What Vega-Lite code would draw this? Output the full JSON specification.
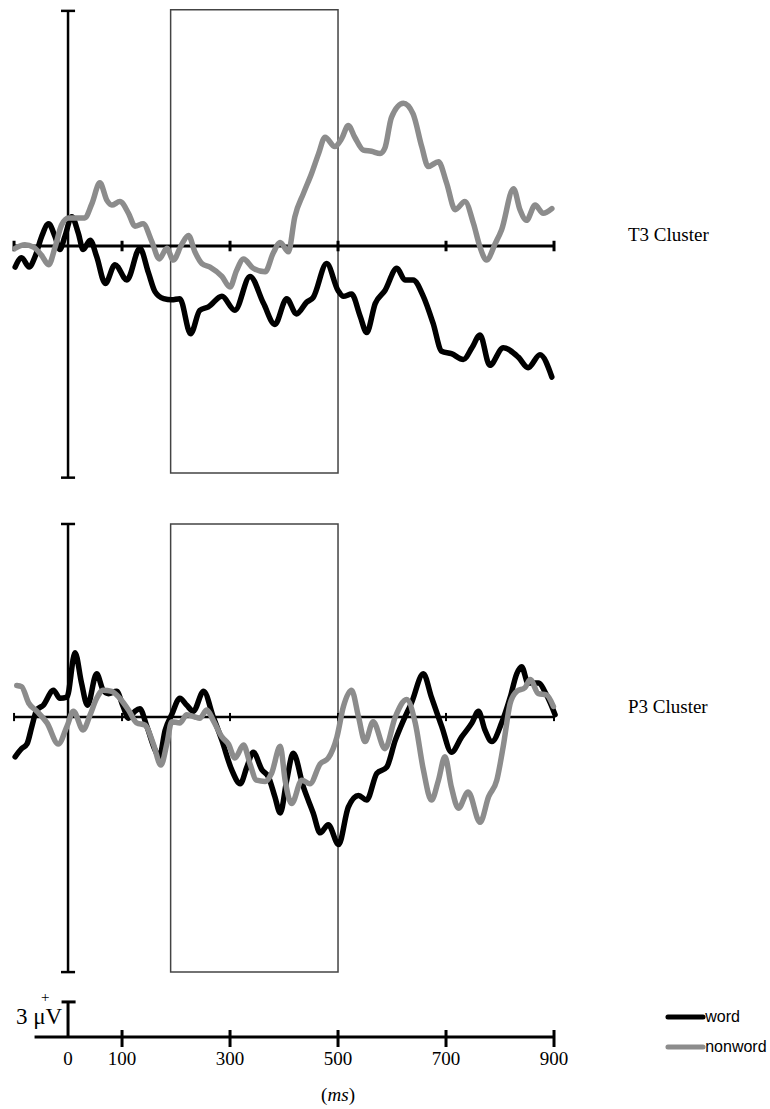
{
  "$schema": "https://vega.github.io/schema/vega-lite/v6.json",
  "padding": 0,
  "autosize": {"type": "pad"},
  "bounds": "flush",
  "spacing": 0,
  "config": {"view": {"stroke": null}, "axis": {"disable": true}, "legend": {"disable": true}},
  "datasets": {
    "t3": [
      {"condition":"word","t":-98,"v":-1.8},{"condition":"word","t":-86,"v":-1.0},{"condition":"word","t":-72,"v":-1.8},{"condition":"word","t":-61,"v":-0.9},{"condition":"word","t":-49,"v":0.8},{"condition":"word","t":-36,"v":1.9},{"condition":"word","t":-24,"v":0.8},{"condition":"word","t":-15,"v":-0.3},{"condition":"word","t":-6,"v":0.8},{"condition":"word","t":7,"v":2.5},{"condition":"word","t":19,"v":1.1},{"condition":"word","t":28,"v":-0.3},{"condition":"word","t":41,"v":0.5},{"condition":"word","t":53,"v":-0.9},{"condition":"word","t":69,"v":-3.2},{"condition":"word","t":87,"v":-1.6},{"condition":"word","t":109,"v":-2.9},{"condition":"word","t":133,"v":-0.2},{"condition":"word","t":149,"v":-2.3},{"condition":"word","t":161,"v":-3.9},{"condition":"word","t":177,"v":-4.5},{"condition":"word","t":192,"v":-4.6},{"condition":"word","t":207,"v":-4.5},{"condition":"word","t":227,"v":-7.5},{"condition":"word","t":244,"v":-5.5},{"condition":"word","t":260,"v":-5.2},{"condition":"word","t":285,"v":-4.3},{"condition":"word","t":309,"v":-5.5},{"condition":"word","t":337,"v":-2.6},{"condition":"word","t":362,"v":-4.9},{"condition":"word","t":383,"v":-6.7},{"condition":"word","t":405,"v":-4.5},{"condition":"word","t":423,"v":-5.8},{"condition":"word","t":442,"v":-4.8},{"condition":"word","t":454,"v":-4.4},{"condition":"word","t":479,"v":-1.5},{"condition":"word","t":500,"v":-3.8},{"condition":"word","t":510,"v":-4.3},{"condition":"word","t":525,"v":-4.1},{"condition":"word","t":541,"v":-6.0},{"condition":"word","t":553,"v":-7.4},{"condition":"word","t":569,"v":-4.9},{"condition":"word","t":587,"v":-3.8},{"condition":"word","t":609,"v":-1.9},{"condition":"word","t":624,"v":-2.9},{"condition":"word","t":639,"v":-2.9},{"condition":"word","t":658,"v":-4.3},{"condition":"word","t":676,"v":-6.6},{"condition":"word","t":692,"v":-9.0},{"condition":"word","t":710,"v":-9.2},{"condition":"word","t":732,"v":-9.7},{"condition":"word","t":748,"v":-8.7},{"condition":"word","t":763,"v":-7.6},{"condition":"word","t":781,"v":-10.2},{"condition":"word","t":806,"v":-8.7},{"condition":"word","t":834,"v":-9.5},{"condition":"word","t":852,"v":-10.4},{"condition":"word","t":874,"v":-9.3},{"condition":"word","t":896,"v":-11.2},
      {"condition":"nonword","t":-98,"v":-0.2},{"condition":"nonword","t":-80,"v":0.1},{"condition":"nonword","t":-64,"v":-0.1},{"condition":"nonword","t":-49,"v":-0.8},{"condition":"nonword","t":-36,"v":-1.6},{"condition":"nonword","t":-24,"v":-0.1},{"condition":"nonword","t":-12,"v":1.8},{"condition":"nonword","t":1,"v":2.4},{"condition":"nonword","t":16,"v":2.4},{"condition":"nonword","t":31,"v":2.4},{"condition":"nonword","t":44,"v":3.6},{"condition":"nonword","t":59,"v":5.4},{"condition":"nonword","t":72,"v":3.9},{"condition":"nonword","t":81,"v":3.5},{"condition":"nonword","t":96,"v":3.8},{"condition":"nonword","t":112,"v":2.8},{"condition":"nonword","t":124,"v":1.7},{"condition":"nonword","t":139,"v":1.9},{"condition":"nonword","t":155,"v":0.4},{"condition":"nonword","t":169,"v":-1.1},{"condition":"nonword","t":183,"v":-0.2},{"condition":"nonword","t":195,"v":-1.2},{"condition":"nonword","t":210,"v":0.1},{"condition":"nonword","t":223,"v":0.9},{"condition":"nonword","t":235,"v":-0.5},{"condition":"nonword","t":248,"v":-1.5},{"condition":"nonword","t":263,"v":-1.8},{"condition":"nonword","t":285,"v":-2.6},{"condition":"nonword","t":300,"v":-3.5},{"condition":"nonword","t":312,"v":-2.1},{"condition":"nonword","t":325,"v":-1.1},{"condition":"nonword","t":343,"v":-1.9},{"condition":"nonword","t":365,"v":-2.2},{"condition":"nonword","t":380,"v":-0.6},{"condition":"nonword","t":393,"v":0.3},{"condition":"nonword","t":408,"v":-0.5},{"condition":"nonword","t":420,"v":2.5},{"condition":"nonword","t":436,"v":4.5},{"condition":"nonword","t":451,"v":6.2},{"condition":"nonword","t":464,"v":7.9},{"condition":"nonword","t":476,"v":9.3},{"condition":"nonword","t":494,"v":8.5},{"condition":"nonword","t":507,"v":9.2},{"condition":"nonword","t":519,"v":10.3},{"condition":"nonword","t":531,"v":9.3},{"condition":"nonword","t":547,"v":8.2},{"condition":"nonword","t":562,"v":8.1},{"condition":"nonword","t":578,"v":7.9},{"condition":"nonword","t":587,"v":8.4},{"condition":"nonword","t":599,"v":11.0},{"condition":"nonword","t":621,"v":12.2},{"condition":"nonword","t":639,"v":11.3},{"condition":"nonword","t":655,"v":8.5},{"condition":"nonword","t":667,"v":6.8},{"condition":"nonword","t":686,"v":7.2},{"condition":"nonword","t":701,"v":5.4},{"condition":"nonword","t":717,"v":3.1},{"condition":"nonword","t":735,"v":3.8},{"condition":"nonword","t":751,"v":1.9},{"condition":"nonword","t":763,"v":-0.1},{"condition":"nonword","t":775,"v":-1.2},{"condition":"nonword","t":791,"v":0.2},{"condition":"nonword","t":803,"v":1.4},{"condition":"nonword","t":825,"v":4.9},{"condition":"nonword","t":837,"v":3.1},{"condition":"nonword","t":849,"v":2.2},{"condition":"nonword","t":865,"v":3.5},{"condition":"nonword","t":880,"v":2.8},{"condition":"nonword","t":896,"v":3.2}
    ],
    "p3": [
      {"condition":"word","t":-98,"v":-3.4},{"condition":"word","t":-86,"v":-2.7},{"condition":"word","t":-76,"v":-2.3},{"condition":"word","t":-67,"v":-0.8},{"condition":"word","t":-58,"v":0.6},{"condition":"word","t":-46,"v":1.0},{"condition":"word","t":-27,"v":2.3},{"condition":"word","t":-15,"v":1.6},{"condition":"word","t":-2,"v":1.7},{"condition":"word","t":13,"v":5.5},{"condition":"word","t":25,"v":2.9},{"condition":"word","t":36,"v":1.0},{"condition":"word","t":53,"v":3.7},{"condition":"word","t":65,"v":2.3},{"condition":"word","t":75,"v":2.0},{"condition":"word","t":90,"v":2.2},{"condition":"word","t":102,"v":0.9},{"condition":"word","t":112,"v":-0.1},{"condition":"word","t":124,"v":0.5},{"condition":"word","t":133,"v":0.7},{"condition":"word","t":146,"v":-0.8},{"condition":"word","t":161,"v":-2.8},{"condition":"word","t":169,"v":-3.4},{"condition":"word","t":180,"v":-1.1},{"condition":"word","t":192,"v":0.2},{"condition":"word","t":207,"v":1.6},{"condition":"word","t":220,"v":1.0},{"condition":"word","t":232,"v":0.5},{"condition":"word","t":251,"v":2.2},{"condition":"word","t":269,"v":0.0},{"condition":"word","t":285,"v":-2.0},{"condition":"word","t":303,"v":-4.5},{"condition":"word","t":319,"v":-5.7},{"condition":"word","t":331,"v":-4.3},{"condition":"word","t":343,"v":-3.0},{"condition":"word","t":359,"v":-4.5},{"condition":"word","t":371,"v":-5.1},{"condition":"word","t":383,"v":-6.8},{"condition":"word","t":393,"v":-8.2},{"condition":"word","t":405,"v":-5.4},{"condition":"word","t":417,"v":-3.1},{"condition":"word","t":436,"v":-6.0},{"condition":"word","t":454,"v":-8.2},{"condition":"word","t":467,"v":-9.9},{"condition":"word","t":482,"v":-9.2},{"condition":"word","t":501,"v":-10.9},{"condition":"word","t":519,"v":-7.7},{"condition":"word","t":538,"v":-6.7},{"condition":"word","t":553,"v":-7.1},{"condition":"word","t":572,"v":-4.8},{"condition":"word","t":590,"v":-4.3},{"condition":"word","t":606,"v":-2.0},{"condition":"word","t":621,"v":-0.3},{"condition":"word","t":636,"v":1.2},{"condition":"word","t":658,"v":3.7},{"condition":"word","t":673,"v":1.7},{"condition":"word","t":692,"v":-0.8},{"condition":"word","t":710,"v":-3.0},{"condition":"word","t":729,"v":-1.7},{"condition":"word","t":748,"v":-0.5},{"condition":"word","t":760,"v":0.5},{"condition":"word","t":772,"v":-1.1},{"condition":"word","t":785,"v":-2.1},{"condition":"word","t":803,"v":-0.5},{"condition":"word","t":819,"v":1.7},{"condition":"word","t":831,"v":3.7},{"condition":"word","t":840,"v":4.3},{"condition":"word","t":852,"v":2.9},{"condition":"word","t":871,"v":2.9},{"condition":"word","t":886,"v":1.9},{"condition":"word","t":902,"v":0.2},
      {"condition":"nonword","t":-95,"v":2.7},{"condition":"nonword","t":-86,"v":2.6},{"condition":"nonword","t":-73,"v":1.2},{"condition":"nonword","t":-58,"v":0.5},{"condition":"nonword","t":-39,"v":-0.5},{"condition":"nonword","t":-18,"v":-2.3},{"condition":"nonword","t":-2,"v":-0.8},{"condition":"nonword","t":10,"v":0.5},{"condition":"nonword","t":28,"v":-1.1},{"condition":"nonword","t":41,"v":0.2},{"condition":"nonword","t":53,"v":1.6},{"condition":"nonword","t":65,"v":2.3},{"condition":"nonword","t":81,"v":2.2},{"condition":"nonword","t":96,"v":1.6},{"condition":"nonword","t":112,"v":0.6},{"condition":"nonword","t":127,"v":-0.5},{"condition":"nonword","t":143,"v":-0.7},{"condition":"nonword","t":158,"v":-2.3},{"condition":"nonword","t":172,"v":-4.1},{"condition":"nonword","t":183,"v":-2.3},{"condition":"nonword","t":192,"v":-0.4},{"condition":"nonword","t":207,"v":-0.5},{"condition":"nonword","t":220,"v":0.2},{"condition":"nonword","t":235,"v":0.0},{"condition":"nonword","t":244,"v":-0.1},{"condition":"nonword","t":257,"v":0.6},{"condition":"nonword","t":269,"v":-0.3},{"condition":"nonword","t":285,"v":-1.7},{"condition":"nonword","t":297,"v":-2.3},{"condition":"nonword","t":309,"v":-3.5},{"condition":"nonword","t":325,"v":-2.4},{"condition":"nonword","t":337,"v":-4.0},{"condition":"nonword","t":349,"v":-5.4},{"condition":"nonword","t":365,"v":-5.5},{"condition":"nonword","t":377,"v":-4.8},{"condition":"nonword","t":393,"v":-2.5},{"condition":"nonword","t":402,"v":-5.4},{"condition":"nonword","t":414,"v":-7.4},{"condition":"nonword","t":433,"v":-5.4},{"condition":"nonword","t":448,"v":-5.7},{"condition":"nonword","t":467,"v":-4.0},{"condition":"nonword","t":482,"v":-3.5},{"condition":"nonword","t":498,"v":-1.7},{"condition":"nonword","t":510,"v":0.9},{"condition":"nonword","t":525,"v":2.3},{"condition":"nonword","t":538,"v":0.0},{"condition":"nonword","t":550,"v":-2.1},{"condition":"nonword","t":565,"v":-0.4},{"condition":"nonword","t":587,"v":-2.7},{"condition":"nonword","t":606,"v":0.0},{"condition":"nonword","t":627,"v":1.5},{"condition":"nonword","t":643,"v":-0.5},{"condition":"nonword","t":658,"v":-4.5},{"condition":"nonword","t":673,"v":-7.1},{"condition":"nonword","t":686,"v":-5.4},{"condition":"nonword","t":698,"v":-3.4},{"condition":"nonword","t":710,"v":-6.0},{"condition":"nonword","t":723,"v":-7.8},{"condition":"nonword","t":741,"v":-6.4},{"condition":"nonword","t":763,"v":-9.0},{"condition":"nonword","t":779,"v":-6.8},{"condition":"nonword","t":794,"v":-5.4},{"condition":"nonword","t":806,"v":-2.5},{"condition":"nonword","t":819,"v":1.2},{"condition":"nonword","t":831,"v":2.2},{"condition":"nonword","t":846,"v":2.5},{"condition":"nonword","t":856,"v":3.2},{"condition":"nonword","t":871,"v":2.0},{"condition":"nonword","t":886,"v":1.9},{"condition":"nonword","t":899,"v":0.9}
    ],
    "window": [{"start": 190, "end": 500}],
    "baselineTicks": [{"t": -100}, {"t": 100}, {"t": 300}, {"t": 500}, {"t": 700}, {"t": 900}],
    "timeTicks": [{"t": 0}, {"t": 100}, {"t": 300}, {"t": 500}, {"t": 700}, {"t": 900}],
    "scalebar": [{"uV": 3}],
    "legend": [{"condition": "word"}, {"condition": "nonword"}]
  },
  "vconcat": [
    {
      "width": 770, "height": 500,
      "layer": [
        {"data": {"name": "window"}, "mark": {"type": "rect", "filled": false, "stroke": "#444444", "strokeWidth": 1.5},
         "encoding": {"x": {"field": "start", "type": "quantitative", "scale": {"domain": [-126, 1300], "nice": false, "zero": false}}, "x2": {"field": "end"},
                      "y": {"datum": -19.4, "type": "quantitative", "scale": {"domain": [-21.71, 21.03], "nice": false, "zero": false}}, "y2": {"datum": 20.2}}},
        {"data": {"name": "window"}, "mark": {"type": "rule", "strokeWidth": 2.5, "color": "#000000"},
         "encoding": {"x": {"datum": 0}, "y": {"datum": -19.8}, "y2": {"datum": 20.1}}},
        {"data": {"name": "window"}, "mark": {"type": "rule", "strokeWidth": 2.5, "color": "#000000"},
         "encoding": {"x": {"datum": -13}, "x2": {"datum": 13}, "y": {"datum": 20.1}}},
        {"data": {"name": "window"}, "mark": {"type": "rule", "strokeWidth": 2.5, "color": "#000000"},
         "encoding": {"x": {"datum": -13}, "x2": {"datum": 13}, "y": {"datum": -19.8}}},
        {"data": {"name": "window"}, "mark": {"type": "rule", "strokeWidth": 3, "color": "#000000"},
         "encoding": {"x": {"datum": -100}, "x2": {"datum": 900}, "y": {"datum": 0}}},
        {"data": {"name": "baselineTicks"}, "mark": {"type": "rule", "strokeWidth": 3, "color": "#000000"},
         "encoding": {"x": {"field": "t", "type": "quantitative"}, "y": {"datum": -0.45}, "y2": {"datum": 0.45}}},
        {"data": {"name": "t3"}, "mark": {"type": "line", "strokeWidth": 5.5, "interpolate": "monotone", "strokeCap": "round", "strokeJoin": "round"},
         "encoding": {"x": {"field": "t", "type": "quantitative", "scale": {"domain": [-126, 1300], "nice": false, "zero": false}},
                      "y": {"field": "v", "type": "quantitative", "scale": {"domain": [-21.71, 21.03], "nice": false, "zero": false}},
                      "color": {"field": "condition", "type": "nominal", "scale": {"domain": ["word", "nonword"], "range": ["#000000", "#8c8c8c"]}}}},
        {"data": {"name": "window"}, "mark": {"type": "text", "text": "T3 Cluster", "align": "left", "baseline": "middle", "font": "Liberation Serif", "fontSize": 19, "color": "#000000"},
         "encoding": {"x": {"datum": 1037}, "y": {"datum": 0.94}}}
      ]
    },
    {
      "width": 770, "height": 490,
      "layer": [
        {"data": {"name": "window"}, "mark": {"type": "rect", "filled": false, "stroke": "#444444", "strokeWidth": 1.5},
         "encoding": {"x": {"field": "start", "type": "quantitative", "scale": {"domain": [-126, 1300], "nice": false, "zero": false}}, "x2": {"field": "end"},
                      "y": {"datum": -21.8, "type": "quantitative", "scale": {"domain": [-23.33, 18.55], "nice": false, "zero": false}}, "y2": {"datum": 16.5}}},
        {"data": {"name": "window"}, "mark": {"type": "rule", "strokeWidth": 2.5, "color": "#000000"},
         "encoding": {"x": {"datum": 0}, "y": {"datum": -21.8}, "y2": {"datum": 16.5}}},
        {"data": {"name": "window"}, "mark": {"type": "rule", "strokeWidth": 2.5, "color": "#000000"},
         "encoding": {"x": {"datum": -13}, "x2": {"datum": 13}, "y": {"datum": 16.5}}},
        {"data": {"name": "window"}, "mark": {"type": "rule", "strokeWidth": 2.5, "color": "#000000"},
         "encoding": {"x": {"datum": -13}, "x2": {"datum": 13}, "y": {"datum": -21.8}}},
        {"data": {"name": "window"}, "mark": {"type": "rule", "strokeWidth": 2.5, "color": "#000000"},
         "encoding": {"x": {"datum": -100}, "x2": {"datum": 900}, "y": {"datum": 0}}},
        {"data": {"name": "baselineTicks"}, "mark": {"type": "rule", "strokeWidth": 2, "color": "#000000"},
         "encoding": {"x": {"field": "t", "type": "quantitative"}, "y": {"datum": -0.35}, "y2": {"datum": 0.35}}},
        {"data": {"name": "p3"}, "mark": {"type": "line", "strokeWidth": 5.5, "interpolate": "monotone", "strokeCap": "round", "strokeJoin": "round"},
         "encoding": {"x": {"field": "t", "type": "quantitative", "scale": {"domain": [-126, 1300], "nice": false, "zero": false}},
                      "y": {"field": "v", "type": "quantitative", "scale": {"domain": [-23.33, 18.55], "nice": false, "zero": false}},
                      "color": {"field": "condition", "type": "nominal", "scale": {"domain": ["word", "nonword"], "range": ["#000000", "#8c8c8c"]}}}},
        {"data": {"name": "window"}, "mark": {"type": "text", "text": "P3 Cluster", "align": "left", "baseline": "middle", "font": "Liberation Serif", "fontSize": 19, "color": "#000000"},
         "encoding": {"x": {"datum": 1037}, "y": {"datum": 0.85}}}
      ]
    },
    {
      "width": 770, "height": 119,
      "layer": [
        {"data": {"name": "scalebar"}, "mark": {"type": "rule", "strokeWidth": 3, "color": "#000000"},
         "encoding": {"x": {"datum": -62, "type": "quantitative", "scale": {"domain": [-126, 1300], "nice": false, "zero": false}}, "x2": {"datum": 900},
                      "y": {"datum": 0, "type": "quantitative", "scale": {"domain": [-6.15, 4.02], "nice": false, "zero": false}}}},
        {"data": {"name": "timeTicks"}, "transform": [{"filter": "datum.t > 0"}], "mark": {"type": "rule", "strokeWidth": 3, "color": "#000000"},
         "encoding": {"x": {"field": "t", "type": "quantitative"}, "y": {"datum": -0.85}, "y2": {"datum": 0.6}}},
        {"data": {"name": "timeTicks"}, "mark": {"type": "text", "font": "Liberation Serif", "fontSize": 19, "baseline": "middle", "align": "center", "color": "#000000"},
         "encoding": {"x": {"field": "t", "type": "quantitative"}, "y": {"datum": -1.88}, "text": {"field": "t", "type": "quantitative"}}},
        {"data": {"name": "scalebar"}, "mark": {"type": "rule", "strokeWidth": 3, "color": "#000000"},
         "encoding": {"x": {"datum": 0}, "y": {"field": "uV", "type": "quantitative"}, "y2": {"datum": 0}}},
        {"data": {"name": "scalebar"}, "mark": {"type": "rule", "strokeWidth": 3, "color": "#000000"},
         "encoding": {"x": {"datum": -12}, "x2": {"datum": 14}, "y": {"field": "uV", "type": "quantitative"}}},
        {"data": {"name": "scalebar"}, "mark": {"type": "text", "text": "3 μV", "font": "Liberation Serif", "fontSize": 23, "align": "right", "baseline": "middle", "color": "#000000"},
         "encoding": {"x": {"datum": -11}, "y": {"datum": 1.71}}},
        {"data": {"name": "scalebar"}, "mark": {"type": "text", "text": "+", "font": "Liberation Serif", "fontSize": 15, "align": "center", "baseline": "middle", "color": "#000000"},
         "encoding": {"x": {"datum": -42}, "y": {"datum": 3.4}}},
        {"data": {"name": "scalebar"}, "mark": {"type": "text", "text": "(", "font": "Liberation Serif", "fontSize": 19, "align": "right", "baseline": "middle", "color": "#000000"},
         "encoding": {"x": {"datum": 480}, "y": {"datum": -4.96}}},
        {"data": {"name": "scalebar"}, "mark": {"type": "text", "text": "ms", "font": "Liberation Serif", "fontStyle": "italic", "fontSize": 19, "align": "center", "baseline": "middle", "color": "#000000"},
         "encoding": {"x": {"datum": 500}, "y": {"datum": -4.96}}},
        {"data": {"name": "scalebar"}, "mark": {"type": "text", "text": ")", "font": "Liberation Serif", "fontSize": 19, "align": "left", "baseline": "middle", "color": "#000000"},
         "encoding": {"x": {"datum": 520}, "y": {"datum": -4.96}}},
        {"data": {"name": "legend"}, "transform": [{"filter": "datum.condition == 'word'"}], "mark": {"type": "rule", "strokeWidth": 5, "strokeCap": "round"},
         "encoding": {"x": {"datum": 1111}, "x2": {"datum": 1176}, "y": {"datum": 1.71},
                      "color": {"field": "condition", "type": "nominal", "scale": {"domain": ["word", "nonword"], "range": ["#000000", "#8c8c8c"]}}}},
        {"data": {"name": "legend"}, "transform": [{"filter": "datum.condition == 'nonword'"}], "mark": {"type": "rule", "strokeWidth": 5, "strokeCap": "round"},
         "encoding": {"x": {"datum": 1111}, "x2": {"datum": 1176}, "y": {"datum": -0.85},
                      "color": {"field": "condition", "type": "nominal"}}},
        {"data": {"name": "legend"}, "transform": [{"filter": "datum.condition == 'word'"}], "mark": {"type": "text", "font": "Liberation Sans", "fontSize": 16, "align": "left", "baseline": "middle", "color": "#000000"},
         "encoding": {"x": {"datum": 1180}, "y": {"datum": 1.71}, "text": {"field": "condition", "type": "nominal"}}},
        {"data": {"name": "legend"}, "transform": [{"filter": "datum.condition == 'nonword'"}], "mark": {"type": "text", "font": "Liberation Sans", "fontSize": 16, "align": "left", "baseline": "middle", "color": "#000000"},
         "encoding": {"x": {"datum": 1180}, "y": {"datum": -0.85}, "text": {"field": "condition", "type": "nominal"}}}
      ]
    }
  ]
}
